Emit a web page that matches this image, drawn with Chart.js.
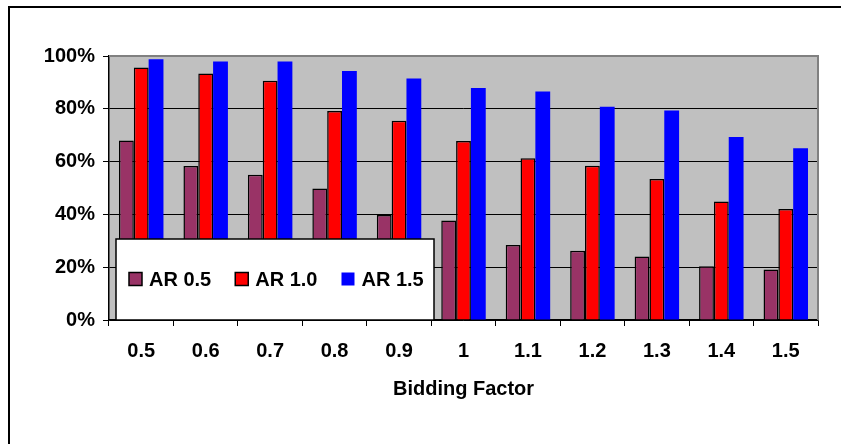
<!DOCTYPE html>
<html>
<head>
<meta charset="utf-8">
<script src="https://cdn.jsdelivr.net/npm/chart.js@4/dist/chart.umd.min.js"></script>
<style>
  html, body { margin: 0; padding: 0; background: #fff; }
  #wrap { width: 841px; height: 444px; }
</style>
</head>
<body>
<div id="wrap"><canvas id="myChart_Bidding" width="841" height="444"></canvas></div>
<script>
// bidding factor categories
const factors = ["0.5", "0.6", "0.7", "0.8", "0.9", "1", "1.1", "1.2", "1.3", "1.4", "1.5"];
// percentages per acceptance ratio
const ar05 = [68, 58.3, 55, 49.8, 39.8, 37.7, 28.4, 26.2, 24.1, 20.4, 19.1];
const ar10 = [95.6, 93.4, 90.6, 79.2, 75.5, 67.8, 61.3, 58.4, 53.4, 44.9, 42];
const ar15 = [98.8, 97.9, 97.9, 94.3, 91.5, 87.9, 86.6, 80.8, 79.4, 69.3, 65.1];
const seriesNames = ["AR 0.5", "AR 1.0", "AR 1.5"];
const yTicks = [0, 20, 40, 60, 80, 100];

const FONT = { family: "'Liberation Sans', Arial, sans-serif", size: 20, weight: "bold" };

// grey plot area + outer frame
const plotBackground = {
  id: "plotBackground",
  beforeDraw(chart) {
    const { ctx, chartArea: a } = chart;
    ctx.save();
    ctx.fillStyle = "#fff";
    ctx.fillRect(0, 0, chart.width, chart.height);
    ctx.strokeStyle = "#000";
    ctx.lineWidth = 2;
    ctx.beginPath();
    ctx.moveTo(9, chart.height);
    ctx.lineTo(9, 7);
    ctx.lineTo(chart.width, 7);
    ctx.stroke();
    ctx.fillStyle = "#C0C0C0";
    ctx.fillRect(a.left, a.top, a.right - a.left, a.bottom - a.top);
    ctx.restore();
  },
  afterDatasetsDraw(chart) {
    const { ctx, chartArea: a } = chart;
    ctx.save();
    ctx.strokeStyle = "#808080";
    ctx.lineWidth = 2;
    ctx.beginPath();
    ctx.moveTo(a.left, a.top);
    ctx.lineTo(a.right, a.top);
    ctx.lineTo(a.right, a.bottom);
    ctx.stroke();
    ctx.restore();
  },
};

// legend box sitting on top of the plot, bottom-left
const boxLegend = {
  id: "boxLegend",
  afterDatasetsDraw(chart, args, opts) {
    const { ctx } = chart;
    const b = opts.box;
    ctx.save();
    ctx.fillStyle = "#fff";
    ctx.fillRect(b.x, b.y, b.w, b.h);
    ctx.strokeStyle = "#000";
    ctx.lineWidth = 1.5;
    ctx.strokeRect(b.x, b.y, b.w, b.h);
    ctx.font = FONT.weight + " " + FONT.size + "px " + FONT.family;
    ctx.textBaseline = "middle";
    ctx.fillStyle = "#000";
    let x = b.x + 13;
    const cy = b.y + b.h / 2;
    chart.data.datasets.forEach((ds) => {
      ctx.fillStyle = ds.backgroundColor;
      ctx.fillRect(x, cy - 7, 13, 13);
      if (ds.borderWidth > 0) {
        ctx.strokeStyle = "#000";
        ctx.lineWidth = 1.5;
        ctx.strokeRect(x, cy - 7, 13, 13);
      }
      ctx.fillStyle = "#000";
      ctx.fillText(ds.label, x + 20, cy + 1);
      x += 20 + ctx.measureText(ds.label).width + 24;
    });
    ctx.restore();
  },
};

const ctx_Bid = document.getElementById("myChart_Bidding").getContext("2d");
const chartBidding = new Chart(ctx_Bid, {
  type: "bar",
  data: {
    labels: factors,
    datasets: [
      { label: seriesNames[0], data: ar05, backgroundColor: "#993366", borderColor: "#000", borderWidth: 1.5 },
      { label: seriesNames[1], data: ar10, backgroundColor: "#FF0000", borderColor: "#000", borderWidth: 1.5 },
      { label: seriesNames[2], data: ar15, backgroundColor: "#0000FF", borderColor: "#0000FF", borderWidth: 0 },
    ],
  },
  options: {
    responsive: false,
    animation: false,
    datasets: { bar: { categoryPercentage: 0.69, barPercentage: 1.0 } },
    layout: { padding: { top: 56, right: 23, left: 0, bottom: 0 } },
    plugins: {
      legend: { display: false },
      tooltip: { enabled: false },
      boxLegend: { box: { x: 116, y: 239, w: 318, h: 81 } },
    },
    scales: {
      x: {
        afterFit: (s) => { s.height = 124; },
        grid: { offset: true, drawOnChartArea: false, drawTicks: true, tickLength: 6, color: "#000" },
        border: { display: true, color: "#000", width: 1.5 },
        ticks: { color: "#000", font: FONT, padding: 13, maxRotation: 0 },
        title: { display: true, text: "Bidding Factor", color: "#000", font: FONT, padding: { top: 0, bottom: 43 } },
      },
      y: {
        min: 0,
        max: 100,
        afterFit: (s) => { s.width = 109; },
        afterBuildTicks: (s) => { s.ticks = yTicks.map((v) => ({ value: v })); },
        grid: {
          color: (c) => (c.tick && c.tick.value === 100 ? "rgba(0,0,0,0)" : "#000"),
          tickColor: "#000",
          tickLength: 6,
          lineWidth: 1,
        },
        border: { display: true, color: "#000", width: 1.5 },
        ticks: { color: "#000", font: FONT, padding: 8, callback: (v) => v + "%" },
      },
    },
  },
  plugins: [plotBackground, boxLegend],
});
</script>
</body>
</html>
